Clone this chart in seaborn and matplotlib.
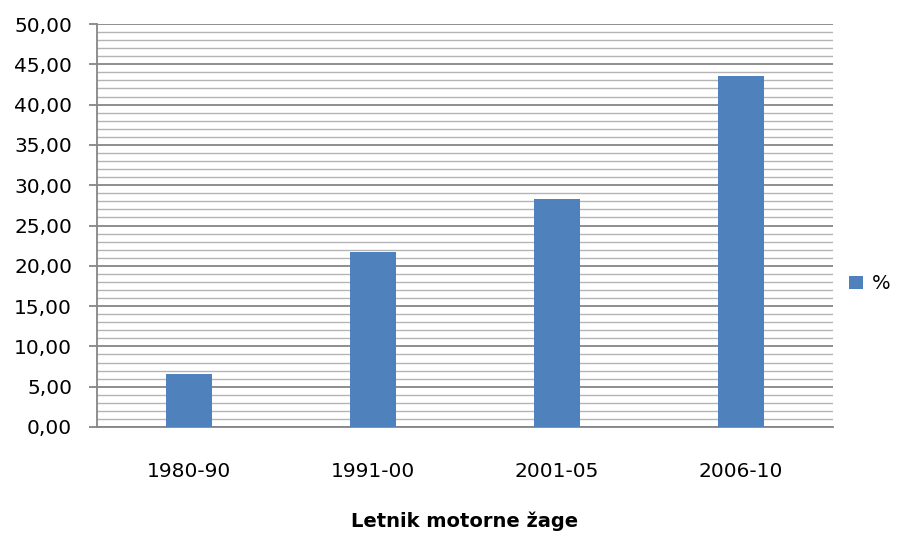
import matplotlib
matplotlib.use('Agg')
import matplotlib.pyplot as plt
import seaborn as sns
import pandas as pd
from matplotlib.ticker import MultipleLocator, FuncFormatter

# data
categories = ['1980-90', '1991-00', '2001-05', '2006-10']
values = [6.6, 21.7, 28.3, 43.5]
series_name = '%'

sns.set_style('white')
plt.rcParams['font.family'] = ['DejaVu Sans']
plt.rcParams['text.color'] = 'black'
plt.rcParams['xtick.labelcolor'] = 'black'
plt.rcParams['ytick.labelcolor'] = 'black'
plt.rcParams['axes.labelcolor'] = 'black'

df = pd.DataFrame({'Letnik': categories, 'Delez': values})

fig = plt.figure(figsize=(9.17, 5.35), dpi=100)
ax = fig.add_axes([0.1058, 0.2019, 0.8026, 0.7532])

sns.barplot(data=df, x='Letnik', y='Delez', color='#4f81bd', width=0.245,
            saturation=1, label=series_name, ax=ax, zorder=3,
            edgecolor='none', linewidth=0)

ax.set_ylim(0, 50)
ax.set_xlim(-0.5, len(categories) - 0.5)
ax.yaxis.set_major_locator(MultipleLocator(5))
ax.yaxis.set_minor_locator(MultipleLocator(1))
ax.yaxis.set_major_formatter(FuncFormatter(lambda v, p: f'{v:.2f}'.replace('.', ',')))

ax.grid(True, which='major', axis='y', color='#868686', linewidth=1.3, zorder=0)
ax.grid(True, which='minor', axis='y', color='#b4b4b4', linewidth=1.0, zorder=0)
ax.set_axisbelow(True)

for side in ['top', 'right']:
    ax.spines[side].set_visible(False)
ax.spines['left'].set_color('#868686')
ax.spines['bottom'].set_color('#868686')
ax.spines['left'].set_linewidth(1.3)
ax.spines['bottom'].set_linewidth(1.3)

ax.tick_params(axis='y', which='major', left=True, length=6, width=1.3,
               color='#868686', labelsize=14.5, pad=12)
ax.tick_params(axis='y', which='minor', left=False)
ax.tick_params(axis='x', bottom=False, labelsize=14.5, pad=22)

ax.set_ylabel('')
ax.set_xlabel('Letnik motorne žage', fontsize=14, fontweight='bold', labelpad=22)

ax.legend(loc='center left', bbox_to_anchor=(0.998, 0.355), frameon=False,
          fontsize=14, handlelength=0.7, handleheight=0.7, handletextpad=0.5)

fig.savefig('out.png', dpi=100)
